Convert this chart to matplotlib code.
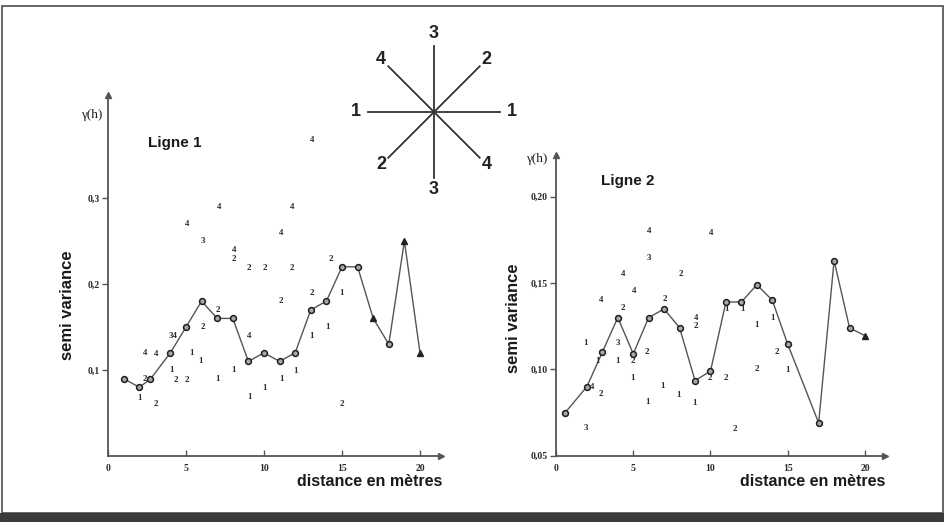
import numpy as np
import matplotlib
matplotlib.use("Agg")
import matplotlib.pyplot as plt
from matplotlib.patches import Rectangle

# ---------------- data ----------------
# Ligne 1 : mean semivariogram
dist1 = [1, 2, 2.7, 4, 5, 6, 7, 8, 9, 10, 11, 12, 13, 14, 15, 16, 17, 18, 19, 20]
gamma1 = [0.09, 0.08, 0.089, 0.12, 0.15, 0.18, 0.16, 0.16, 0.11, 0.12, 0.11, 0.12,
          0.17, 0.18, 0.22, 0.22, 0.16, 0.13, 0.25, 0.12]
tri1 = [17, 19, 20]          # distances plotted with a triangle

# Ligne 1 : directional values (label = direction number)
dir1_x = [13.1, 7.1, 5.08, 6.1, 8.08, 8.08, 9.06, 10.06, 11.8, 11.8, 11.1, 11.07,
          13.06, 7.07, 14.3, 15.0, 14.06, 13.06, 9.06, 4.2, 6.05, 2.37, 3.06, 5.36,
          5.96, 4.08, 4.36, 5.04, 2.37, 2.0, 3.06, 7.03, 8.03, 9.06, 10.06, 11.1,
          12.05, 15.0]
dir1_y = [0.367, 0.289, 0.27, 0.25, 0.24, 0.229, 0.219, 0.219, 0.219, 0.289, 0.259,
          0.18, 0.19, 0.17, 0.229, 0.189, 0.15, 0.139, 0.14, 0.14, 0.15, 0.12, 0.119,
          0.12, 0.11, 0.1, 0.088, 0.088, 0.09, 0.068, 0.06, 0.089, 0.1, 0.069, 0.079,
          0.089, 0.099, 0.06]
dir1_lab = ['4', '4', '4', '3', '4', '2', '2', '2', '2', '4', '4', '2',
            '2', '2', '2', '1', '1', '1', '4', '34', '2', '4', '4', '1',
            '1', '1', '2', '2', '2', '1', '2', '1', '1', '1', '1', '1',
            '1', '2']

# Ligne 2 : mean semivariogram
dist2 = [0.6, 2, 3, 4, 5, 6, 7, 8, 9, 10, 11, 12, 13, 14, 15, 17, 18, 19, 20]
gamma2 = [0.075, 0.09, 0.11, 0.13, 0.109, 0.13, 0.135, 0.124, 0.0935, 0.099, 0.139,
          0.139, 0.149, 0.14, 0.1145, 0.069, 0.163, 0.124, 0.1195]
tri2 = [20]

# Ligne 2 : directional values
dir2_x = [6.04, 10.07, 6.04, 4.36, 8.07, 5.05, 2.9, 4.3, 7.03, 9.1, 9.07, 11.04,
          12.05, 13.0, 14.0, 1.94, 4.0, 2.67, 3.97, 5.0, 5.9, 2.31, 2.9, 4.96, 6.9,
          5.94, 7.95, 8.97, 9.99, 11.0, 13.0, 14.3, 15.0, 1.94, 11.6]
dir2_y = [0.180, 0.179, 0.1647, 0.155, 0.155, 0.1455, 0.140, 0.1353, 0.1406, 0.130,
          0.125, 0.135, 0.135, 0.1257, 0.1296, 0.1154, 0.115, 0.1048, 0.105, 0.105,
          0.110, 0.090, 0.0857, 0.0948, 0.0904, 0.081, 0.0851, 0.0803, 0.0952,
          0.0952, 0.100, 0.110, 0.0996, 0.0662, 0.0655]
dir2_lab = ['4', '4', '3', '4', '2', '4', '4', '2', '2', '4', '2', '1',
            '1', '1', '1', '1', '3', '1', '1', '2', '2', '4', '2', '1', '1',
            '1', '1', '1', '2', '2', '2', '2', '1', '3', '2']

xticks = [0, 5, 10, 15, 20]
yticks1 = [0.1, 0.2, 0.3]
yticks1_lab = ['0,1', '0,2', '0,3']
yticks2 = [0.05, 0.10, 0.15, 0.20]
yticks2_lab = ['0,05', '0,10', '0,15', '0,20']

# compass (direction label, angle in degrees)
compass_lab = ['1', '2', '3', '4']
compass_ang = [0, 45, 90, 135]

# ---------------- figure ----------------
W, H = 945, 522
fig = plt.figure(figsize=(W / 100, H / 100), dpi=100)
fig.patch.set_facecolor('white')

INK = '#2a2a2a'
LINE = '#555555'
SANS = 'Liberation Sans'
SERIF = 'Liberation Serif'

bg = fig.add_axes([0, 0, 1, 1])
bg.set_xlim(0, W)
bg.set_ylim(H, 0)
bg.axis('off')
bg.add_patch(Rectangle((1.5, 5.5), 941, 507, fill=False, ec='#5a5a5a', lw=1.3))
bg.add_patch(Rectangle((0, 513), W, 9, fc='#3a3a3a', ec='none'))

# compass rose
cx, cy, r = 434, 112, 66
for lab, ang in zip(compass_lab, compass_ang):
    a = np.deg2rad(ang)
    dx, dy = np.cos(a), -np.sin(a)
    rr = r if ang in (0, 90) else r * 0.98
    bg.plot([cx - rr * dx, cx + rr * dx], [cy - rr * dy, cy + rr * dy],
            color='#333333', lw=1.3)
    lr = rr + 12 if ang in (0, 90) else rr + 10
    for s in (1, -1):
        bg.text(cx + s * lr * dx, cy + s * lr * dy, lab, ha='center', va='center',
                fontsize=13, fontweight='bold', family=SANS, color='#222222')


def make_panel(rect_px, xmax, ymin, ymax, dist, gam, tri, dx, dy, dl,
               yt, ytl, title, title_xy):
    l, t, rgt, b = rect_px
    ax = fig.add_axes([l / W, (H - b) / H, (rgt - l) / W, (b - t) / H])
    ax.set_xlim(0, xmax)
    ax.set_ylim(ymin, ymax)
    ax.patch.set_alpha(0)
    for s in ('top', 'right'):
        ax.spines[s].set_visible(False)
    for s in ('left', 'bottom'):
        ax.spines[s].set_color(LINE)
        ax.spines[s].set_linewidth(1.3)
    ax.plot([1], [0], marker='>', ms=5, color=LINE, transform=ax.transAxes,
            clip_on=False)
    ax.plot([0], [1], marker='^', ms=5, color=LINE, transform=ax.transAxes,
            clip_on=False)
    ax.set_xticks(xticks)
    ax.set_xticklabels([str(v) for v in xticks], family=SERIF, fontsize=7,
                       fontweight='bold', color=INK)
    ax.set_yticks(yt)
    ax.set_yticklabels(ytl, family=SERIF, fontsize=7, fontweight='bold', color=INK)
    ax.tick_params(axis='x', direction='in', length=4, width=1, color=LINE, pad=6)
    ax.tick_params(axis='y', direction='out', length=4, width=1, color=LINE, pad=2)

    ax.plot(dist, gam, color=LINE, lw=1.0, zorder=2)
    d = np.array(dist)
    g = np.array(gam)
    istri = np.isin(d, tri)
    ax.plot(d[~istri], g[~istri], ls='none', marker='o', ms=4.2, mfc='#a8a8a8',
            mec='#1e1e1e', mew=1.1, zorder=3)
    ax.plot(d[istri], g[istri], ls='none', marker='^', ms=4.2, color='#222222',
            zorder=3)
    for x, y, s in zip(dx, dy, dl):
        ax.text(x, y, s, ha='center', va='center', fontsize=6.5, family=SERIF,
                fontweight='bold', color=INK, zorder=4)
    bg.text(title_xy[0], title_xy[1], title, ha='left', va='center', fontsize=11,
            fontweight='bold', family=SANS, color='#1a1a1a')
    return ax


ax1 = make_panel((108, 95, 441, 456), (441 - 108) / 15.6, 0, (456 - 95) / 860,
                 dist1, gamma1, tri1, dir1_x, dir1_y, dir1_lab,
                 yticks1, yticks1_lab, 'Ligne 1', (148, 143))
ax2 = make_panel((556, 155, 885, 455.7), (885 - 556) / 15.45, 0.05,
                 0.05 + (455.7 - 155) / 1727,
                 dist2, gamma2, tri2, dir2_x, dir2_y, dir2_lab,
                 yticks2, yticks2_lab, 'Ligne 2', (601, 181))

# axis titles
for (xv, yv) in [(68, 305), (513, 318)]:
    bg.text(xv, yv, 'semi variance', rotation=90, ha='center', va='center',
            fontsize=12, fontweight='bold', family=SANS, color='#1a1a1a')
for (xv, yv) in [(370, 482), (813, 482)]:
    bg.text(xv, yv, 'distance en mètres', ha='center', va='center',
            fontsize=11.5, fontweight='bold', family=SANS, color='#1a1a1a')
for (xv, yv) in [(92, 115), (537, 159)]:
    bg.text(xv, yv, 'γ(h)', ha='center', va='center', fontsize=9.5,
            family=SERIF, color='#1a1a1a')

fig.savefig('out.png', dpi=100, facecolor='white')
